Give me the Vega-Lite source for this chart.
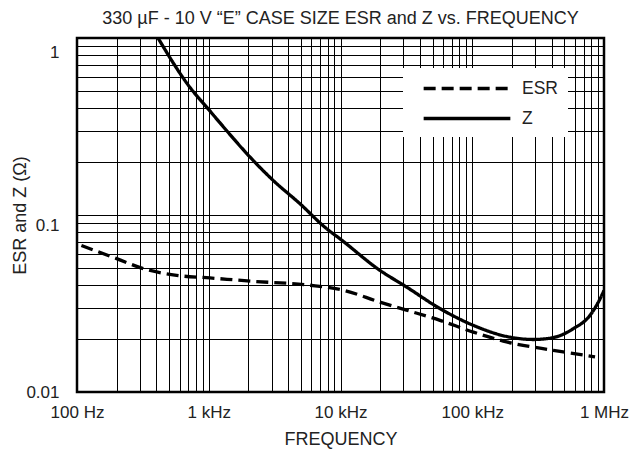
{
  "$schema": "https://vega.github.io/schema/vega-lite/v6.json",
  "autosize": {"type": "none"},
  "padding": {"left": 77, "top": 38, "right": 27, "bottom": 59},
  "width": 527,
  "height": 354,
  "background": "white",
  "title": {
    "text": "330 µF - 10 V “E” CASE SIZE ESR and Z vs. FREQUENCY",
    "fontSize": 18,
    "fontWeight": "normal",
    "font": "Liberation Sans",
    "color": "#222",
    "anchor": "middle",
    "frame": "group",
    "offset": 10
  },
  "config": {
    "view": {"stroke": "black", "strokeWidth": 2.5},
    "font": "Liberation Sans",
    "axis": {
      "domain": false,
      "ticks": false,
      "grid": true,
      "gridColor": "black",
      "gridOpacity": 1,
      "gridWidth": 1,
      "labelFont": "Liberation Sans",
      "labelFontSize": 17,
      "labelColor": "#222",
      "titleFont": "Liberation Sans",
      "titleFontSize": 18,
      "titleFontWeight": "normal",
      "titleColor": "#222"
    }
  },
  "data": {
    "values": [
      {"series": "ESR", "f": 108, "v": 0.0672},
      {"series": "ESR", "f": 200, "v": 0.0567},
      {"series": "ESR", "f": 318, "v": 0.0498},
      {"series": "ESR", "f": 570, "v": 0.0456},
      {"series": "ESR", "f": 1020, "v": 0.0441},
      {"series": "ESR", "f": 2180, "v": 0.0422},
      {"series": "ESR", "f": 5880, "v": 0.0401},
      {"series": "ESR", "f": 10500, "v": 0.0376},
      {"series": "ESR", "f": 19900, "v": 0.0322},
      {"series": "ESR", "f": 31700, "v": 0.0290},
      {"series": "ESR", "f": 56900, "v": 0.0254},
      {"series": "ESR", "f": 102000, "v": 0.0218},
      {"series": "ESR", "f": 182000, "v": 0.0192},
      {"series": "ESR", "f": 412000, "v": 0.0172},
      {"series": "ESR", "f": 855000, "v": 0.0158},
      {"series": "Z", "f": 412, "v": 1.0},
      {"series": "Z", "f": 716, "v": 0.529},
      {"series": "Z", "f": 986, "v": 0.399},
      {"series": "Z", "f": 1360, "v": 0.301},
      {"series": "Z", "f": 2050, "v": 0.213},
      {"series": "Z", "f": 3080, "v": 0.157},
      {"series": "Z", "f": 4910, "v": 0.116},
      {"series": "Z", "f": 7830, "v": 0.0838},
      {"series": "Z", "f": 9880, "v": 0.0735},
      {"series": "Z", "f": 19900, "v": 0.0487},
      {"series": "Z", "f": 31700, "v": 0.0392},
      {"series": "Z", "f": 56900, "v": 0.0296},
      {"series": "Z", "f": 102000, "v": 0.0238},
      {"series": "Z", "f": 182000, "v": 0.0206},
      {"series": "Z", "f": 291000, "v": 0.0198},
      {"series": "Z", "f": 412000, "v": 0.0203},
      {"series": "Z", "f": 585000, "v": 0.0228},
      {"series": "Z", "f": 783000, "v": 0.0271},
      {"series": "Z", "f": 962000, "v": 0.0352},
      {"series": "Z", "f": 1000000, "v": 0.0375}
    ]
  },
  "mark": {"type": "line", "color": "black", "strokeWidth": 3.3, "interpolate": "monotone", "clip": true},
  "encoding": {
    "x": {
      "field": "f",
      "type": "quantitative",
      "scale": {"type": "log", "domain": [100, 1000000], "nice": false},
      "axis": {
        "title": "FREQUENCY",
        "labelPadding": 12,
        "titlePadding": 10,
        "labelFlush": false,
        "labelOverlap": false,
        "values": [100,200,300,400,500,600,700,800,900,1000,2000,3000,4000,5000,6000,7000,8000,9000,10000,20000,30000,40000,50000,60000,70000,80000,90000,100000,200000,300000,400000,500000,600000,700000,800000,900000,1000000],
        "labelExpr": "datum.value == 100 ? '100 Hz' : datum.value == 1000 ? '1 kHz' : datum.value == 10000 ? '10 kHz' : datum.value == 100000 ? '100 kHz' : datum.value == 1000000 ? '1 MHz' : ''"
      }
    },
    "y": {
      "field": "v",
      "type": "quantitative",
      "scale": {"type": "log", "domain": [0.01, 1], "nice": false},
      "axis": {
        "title": "ESR and Z (Ω)",
        "titleX": -57,
        "titleY": 177,
        "titleBaseline": "middle",
        "titleAngle": 270,
        "labelPadding": 18,
        "labelOverlap": false,
        "labelOffset": {"condition": [{"test": "datum.value >= 0.5", "value": 14}, {"test": "datum.value >= 0.05", "value": 10}], "value": 0},
        "values": [0.01,0.02,0.03,0.04,0.05,0.06,0.07,0.08,0.09,0.1,0.2,0.3,0.4,0.5,0.6,0.7,0.8,0.9,1],
        "labelExpr": "datum.value == 1 ? '1' : datum.value == 0.1 ? '0.1' : datum.value == 0.01 ? '0.01' : ''"
      }
    },
    "strokeDash": {
      "field": "series",
      "type": "nominal",
      "scale": {"domain": ["ESR", "Z"], "range": [[12, 6], [1, 0]]},
      "legend": {
        "title": null,
        "orient": "none",
        "legendX": 326,
        "legendY": 30,
        "fillColor": "white",
        "padding": 10,
        "symbolType": "M-5.1,0H5.1",
        "symbolSize": 289,
        "symbolOffset": 43.5,
        "symbolStrokeWidth": 3.5,
        "symbolStrokeColor": "black",
        "labelFontSize": 17.5,
        "labelColor": "#222",
        "labelFont": "Liberation Sans",
        "labelOffset": 44.5,
        "rowPadding": 11
      }
    }
  }
}
